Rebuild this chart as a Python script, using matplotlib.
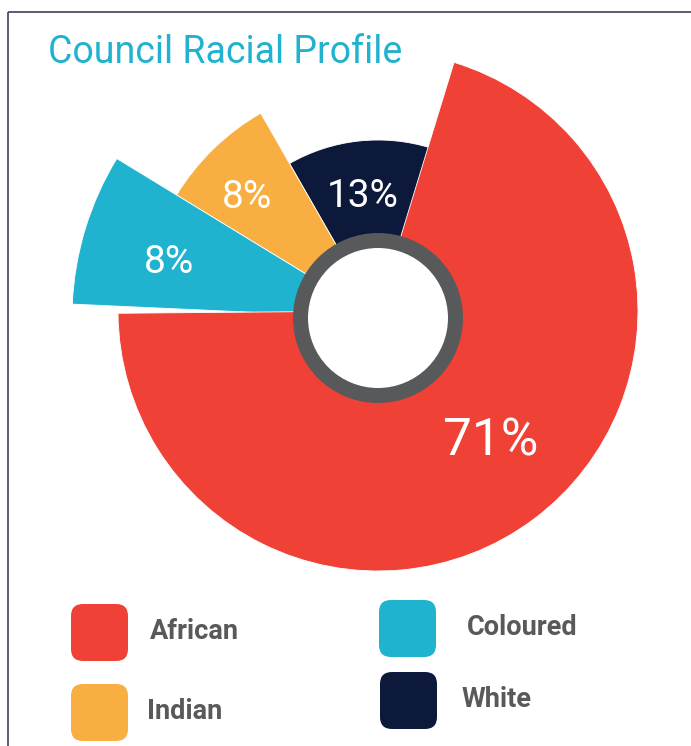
import numpy as np
import matplotlib
matplotlib.use("Agg")
import matplotlib.pyplot as plt
from matplotlib.patches import Wedge, Circle, FancyBboxPatch

# council racial profile data
groups = ['African', 'White', 'Indian', 'Coloured']
shares = [71, 13, 8, 8]
colors = ['#ef4136', '#0c193b', '#f9ae42', '#1fb3cf']

# drawn in the order White, Indian, Coloured, African going counter clockwise
order = [1, 2, 3, 0]
radii = {'African': 260, 'White': 178, 'Indian': 236, 'Coloured': 306}
# the big slice sits a little higher than the others, with a small notch before it
lift = {'African': 7, 'White': 0, 'Indian': 0, 'Coloured': 0}
notch = {'African': 3.1, 'White': 0, 'Indian': 0, 'Coloured': 0}
# label placement: (angle offset from slice middle, distance from centre)
lbl_pos = {'African': (4.1, 178), 'White': (1.3, 112), 'Indian': (5.7, 171), 'Coloured': (4.9, 214)}
lbl_size = {'African': 37, 'White': 28, 'Indian': 28, 'Coloured': 28}

W, H = 691, 746
cx, cy = 378, 318
start = 73

fig = plt.figure(figsize=(W/100, H/100), dpi=100)
ax = fig.add_axes([0, 0, 1, 1])
ax.set_xlim(0, W)
ax.set_ylim(H, 0)
ax.set_aspect('equal')
ax.axis('off')

# frame lines on top and left
ax.plot([8, W], [11.5, 11.5], color='#3b4161', lw=1.2, solid_capstyle='butt')
ax.plot([8, 8], [11.5, H], color='#3b4161', lw=1.2, solid_capstyle='butt')

ax.text(48, 63, 'Council Racial Profile', color='#20b2cf', fontsize=27,
        family='Roboto', ha='left', va='baseline')

a = start
for i in order:
    name = groups[i]
    span = shares[i] / sum(shares) * 360
    a1, a2 = a, a + span
    # y axis points down, so flip the angles
    ax.add_patch(Wedge((cx, cy - lift[name]), radii[name], -a2, -(a1 + notch[name]),
                       facecolor=colors[i], edgecolor='white', lw=0.6))
    mid = np.radians((a1 + a2) / 2 + lbl_pos[name][0])
    r = lbl_pos[name][1]
    ax.text(cx + r*np.cos(mid), cy - r*np.sin(mid), f'{shares[i]}%', color='white',
            fontsize=lbl_size[name], family='Roboto', ha='center', va='baseline')
    a = a2

# centre hole with grey ring
ax.add_patch(Circle((cx, cy), 85, facecolor='#58595b', edgecolor='none'))
ax.add_patch(Circle((cx, cy), 70, facecolor='white', edgecolor='none'))

# legend boxes: (x, y of box top-left, text x, text baseline)
leg = {'African': (71, 604, 150, 639), 'Indian': (71, 684, 147, 719),
       'Coloured': (379, 600, 467, 635), 'White': (380, 672, 462, 707)}
for i, name in enumerate(groups):
    bx, by, tx, ty = leg[name]
    ax.add_patch(FancyBboxPatch((bx + 12, by + 12), 57 - 24, 57 - 24,
                                boxstyle='round,pad=12', facecolor=colors[i],
                                edgecolor='none'))
    ax.text(tx, ty, name, color='#58595b', fontsize=19.5, family='Roboto',
            fontweight='bold', ha='left', va='baseline')

fig.savefig('out.png', dpi=100)
